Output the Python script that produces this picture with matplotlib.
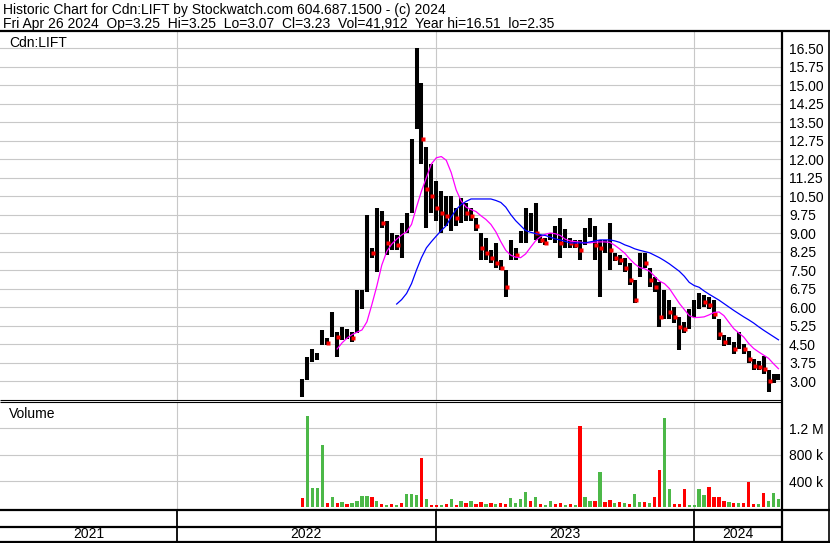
import numpy as np
import pandas as pd
import matplotlib
matplotlib.use('Agg')
import matplotlib.pyplot as plt
from matplotlib.lines import Line2D

plt.rcParams['font.family'] = ['Liberation Sans', 'DejaVu Sans']
plt.rcParams['font.size'] = 10

#%% data (weekly samples)
week_dates = pd.date_range('2022-06-27', periods=97, freq='7D')

hi = [3.10, 3.97, 4.30, 4.15, 5.07, 4.75, 5.80, 5.00, 5.20, 5.10,
      5.00, 6.70, 6.70, 9.75, 8.40, 10.00, 9.90, 9.50, 9.00, 8.90,
      9.40, 9.80, 12.80, 16.51, 15.10, 12.50, 11.80, 11.10, 10.70, 10.50,
      10.50, 10.00, 10.40, 10.20, 10.00, 9.60, 9.00, 8.80, 8.30, 8.60,
      7.90, 7.50, 8.70, 8.40, 9.10, 10.00, 9.80, 10.20, 8.90, 8.80,
      9.00, 9.30, 9.60, 9.15, 8.80, 8.70, 8.70, 9.20, 9.60, 9.30,
      8.70, 8.70, 9.40, 8.20, 8.10, 8.00, 7.80, 7.10, 8.20, 8.20,
      7.60, 7.20, 7.00, 6.70, 6.30, 6.00, 5.60, 5.40, 5.90, 6.30,
      6.55, 6.50, 6.40, 6.30, 5.50, 4.85, 4.80, 4.60, 5.00, 4.50,
      4.20, 3.90, 3.80, 4.00, 3.45, 3.30, 3.30]
lo = [2.35, 3.04, 3.77, 3.85, 4.46, 4.45, 4.80, 3.97, 4.65, 4.70,
      4.60, 4.95, 5.90, 6.60, 8.00, 7.40, 9.20, 8.10, 8.30, 8.30,
      8.00, 9.00, 9.80, 13.20, 11.80, 9.20, 9.80, 9.50, 9.00, 9.30,
      9.10, 9.30, 9.40, 9.50, 9.50, 9.10, 7.90, 7.90, 7.80, 7.60,
      7.50, 6.40, 7.90, 7.90, 8.60, 8.60, 9.10, 8.70, 8.60, 8.50,
      8.70, 8.60, 8.00, 8.40, 8.40, 8.40, 7.90, 8.50, 8.85, 7.90,
      6.40, 8.20, 7.50, 7.85, 7.70, 7.40, 6.90, 6.15, 7.20, 7.60,
      6.80, 6.60, 5.20, 5.50, 5.50, 5.35, 4.25, 4.95, 5.10, 5.60,
      5.90, 6.00, 5.90, 5.50, 4.65, 4.40, 4.45, 4.10, 4.30, 4.10,
      3.75, 3.45, 3.45, 3.30, 2.55, 2.90, 3.05]
cl = [2.60, 3.70, 4.00, 4.00, 4.70, 4.55, 4.90, 4.80, 4.80, 4.90,
      4.75, 6.30, 6.40, 8.30, 8.20, 9.50, 9.40, 8.60, 8.60, 8.50,
      9.10, 9.60, 12.20, 14.50, 12.80, 10.80, 10.50, 10.00, 9.80, 9.70,
      9.90, 9.60, 10.00, 9.80, 9.70, 9.30, 8.40, 8.20, 8.00, 7.80,
      7.60, 6.80, 8.40, 8.10, 8.90, 8.90, 9.40, 9.00, 8.70, 8.60,
      8.90, 9.00, 8.60, 8.70, 8.60, 8.50, 8.30, 8.90, 9.30, 8.50,
      8.40, 8.40, 8.30, 8.00, 7.90, 7.60, 7.10, 6.30, 8.00, 7.80,
      7.10, 6.80, 5.60, 6.20, 5.80, 5.60, 5.20, 5.10, 5.60, 6.00,
      6.30, 6.20, 6.10, 5.70, 4.90, 4.60, 4.60, 4.30, 4.50, 4.30,
      3.90, 3.60, 3.55, 3.50, 3.00, 3.10, 3.23]

nan = np.nan
ma_short = [nan]*7 + [4.30, 4.55, 4.74,
      4.88, 4.98, 5.07, 5.40, 6.10, 6.85, 7.70, 8.25, 8.55, 8.75,
      8.92, 9.05, 9.35, 10.05, 10.70, 11.25, 11.80, 12.05, 12.10, 11.95,
      11.45, 10.75, 10.30, 10.05, 9.95, 9.87, 9.70, 9.55, 9.35, 9.05,
      8.65, 8.30, 8.10, 8.02, 8.00, 8.15, 8.42, 8.68, 8.85, 8.95,
      9.00, 8.97, 8.90, 8.75, 8.68, 8.65, 8.63, 8.60, 8.60, 8.63,
      8.64, 8.64, 8.62, 8.50, 8.35, 8.18, 7.95, 7.75, 7.60, 7.55,
      7.45, 7.25, 7.05, 6.95, 6.75, 6.45, 6.15, 5.90, 5.65, 5.57,
      5.58, 5.60, 5.68, 5.78, 5.80, 5.65, 5.38, 5.12, 4.95, 4.78,
      4.52, 4.32, 4.18, 4.05, 3.92, 3.70, 3.50]
ma_long = [nan]*19 + [6.12,
      6.30, 6.55, 6.95, 7.50, 8.00, 8.40, 8.65, 8.88, 9.10, 9.30,
      9.65, 9.95, 10.15, 10.28, 10.38, 10.38, 10.38, 10.38, 10.38, 10.32,
      10.24, 10.05, 9.75, 9.50, 9.30, 9.10, 9.03, 8.98, 8.93, 8.90,
      8.83, 8.76, 8.72, 8.66, 8.60, 8.60, 8.60, 8.60, 8.64, 8.68,
      8.72, 8.72, 8.72, 8.68, 8.62, 8.52, 8.45, 8.36, 8.30, 8.25,
      8.20, 8.10, 8.00, 7.88, 7.75, 7.60, 7.45, 7.25, 7.00, 6.87,
      6.80, 6.65, 6.52, 6.40, 6.28, 6.14, 6.00, 5.86, 5.73, 5.60,
      5.48, 5.35, 5.20, 5.06, 4.93, 4.80, 4.67]

# volume in thousands, colour: g = up, r = down
vol_k = [140, 1390, 300, 290, 950, 60, 150, 60, 80, 50,
         60, 100, 165, 180, 150, 100, 50, 40, 50, 40,
         60, 200, 200, 185, 754, 120, 35, 30, 40, 45,
         120, 40, 95, 60, 95, 50, 80, 45, 60, 45,
         70, 50, 140, 60, 120, 235, 100, 155, 50, 40,
         95, 50, 60, 40, 45, 30, 1240, 150, 100, 95,
         530, 80, 110, 60, 80, 60, 45, 205, 85, 80,
         60, 150, 560, 1360, 280, 45, 50, 280, 40, 40,
         280, 190, 310, 150, 160, 100, 80, 70, 60, 70,
         380, 45, 50, 220, 100, 220, 120]
vol_dir = list('rgggg' 'rgrgr' 'ggggr' 'grgrg' 'rgggr' 'grrgr'
               'grgrg' 'rrgrg' 'rrggg' 'grgrg' 'grrgr' 'grggr'
               'grrgr' 'grggr' 'grrgg' 'rrrgg' 'ggrrr' 'rgrgr'
               'rrgrg' 'gg')

year_starts = pd.to_datetime(['2022-01-01', '2023-01-01', '2024-01-01'])
year_labels = ['2021', '2022', '2023', '2024']

title1 = 'Historic Chart for Cdn:LIFT by Stockwatch.com 604.687.1500 - (c) 2024'
title2 = ('Fri Apr 26 2024  Op=3.25  Hi=3.25  Lo=3.07  Cl=3.23  '
          'Vol=41,912  Year hi=16.51  lo=2.35')

#%% layout in pixels
W, H = 830, 543
x_start = pd.Timestamp('2021-04-26')
x_end = pd.Timestamp('2024-05-04')
grid_c = '#c8c8c8'
up_c = '#4cb848'
dn_c = '#ff0000'


def box(x0, y0, x1, y1):
    return [x0 / W, 1 - y1 / H, (x1 - x0) / W, (y1 - y0) / H]


def fline(xs, ys, lw=1.5):
    fig.add_artist(Line2D([x / W for x in xs], [1 - y / H for y in ys],
                          color='black', lw=lw, solid_capstyle='butt'))


fig = plt.figure(figsize=(8.3, 5.43), dpi=100)
ax = fig.add_axes(box(0, 31, 782, 400))
axv = fig.add_axes(box(0, 402, 782, 509))
axy = fig.add_axes(box(0, 509, 782, 542))

hi = np.array(hi); lo = np.array(lo); cl = np.array(cl)

# price panel
ax.vlines(week_dates, lo, hi, color='black', lw=2.9)
down = np.r_[False, cl[1:] < cl[:-1]]
ax.plot(week_dates[down] + pd.Timedelta(days=1.5), cl[down], 's',
        color='red', ms=2.4, mec='none', zorder=3)
ax.plot(week_dates, ma_short, color='#ff00ff', lw=0.9, zorder=4)
ax.plot(week_dates, ma_long, color='#0000ff', lw=0.9, zorder=4)
ax.set_ylim(2.23, 17.19)
ax.set_yticks(np.arange(3.0, 16.51, 0.75))
ax.set_yticklabels(['%.2f' % v for v in np.arange(3.0, 16.51, 0.75)])

# volume panel
axv.bar(week_dates, np.array(vol_k) * 1000, width=4.6,
        color=[up_c if d == 'g' else dn_c for d in vol_dir], lw=0)
axv.set_ylim(-25000, 1600000)
axv.set_yticks([400000, 800000, 1200000])
axv.set_yticklabels(['400 k', '800 k', '1.2 M'])

for a in (ax, axv):
    a.set_xlim(x_start, x_end)
    a.set_xticks(year_starts)
    a.set_xticklabels([])
    a.yaxis.tick_right()
    a.tick_params(axis='both', length=0)
    a.tick_params(axis='y', pad=5, labelsize=10)
    a.grid(True, color=grid_c, lw=0.8)
    a.set_axisbelow(True)
    for s in a.spines.values():
        s.set_visible(False)

# year strip
axy.set_xlim(x_start, x_end)
axy.set_ylim(0, 1)
axy.axis('off')
for d in year_starts:
    axy.axvline(d, color='black', lw=1.3)
edges = [x_start] + list(year_starts) + [x_end]
for i, lab in enumerate(year_labels):
    mid = edges[i] + (edges[i + 1] - edges[i]) / 2
    axy.text(mid, 0.24, lab, ha='center', va='center', fontsize=10)

# frame lines
fline([0, 830], [31, 31], 1.6)
fline([782, 782], [31, 543], 1.6)
fline([828.5, 828.5], [31, 543], 1.2)
fline([0, 782], [399.5, 399.5], 0.8)
fline([0, 782], [401.5, 401.5], 0.8)
fline([0, 830], [509.5, 509.5], 1.6)
fline([0, 782], [527, 527], 1.6)
fline([0, 830], [541.5, 541.5], 1.6)

# texts
fig.text(3 / W, 1 - 14 / H, title1, va='baseline', fontsize=10)
fig.text(3 / W, 1 - 28 / H, title2, va='baseline', fontsize=10)
fig.text(9 / W, 1 - 47 / H, 'Cdn:LIFT', va='baseline', fontsize=10)
fig.text(9 / W, 1 - 418 / H, 'Volume', va='baseline', fontsize=10)

fig.savefig('out.png', dpi=100)
